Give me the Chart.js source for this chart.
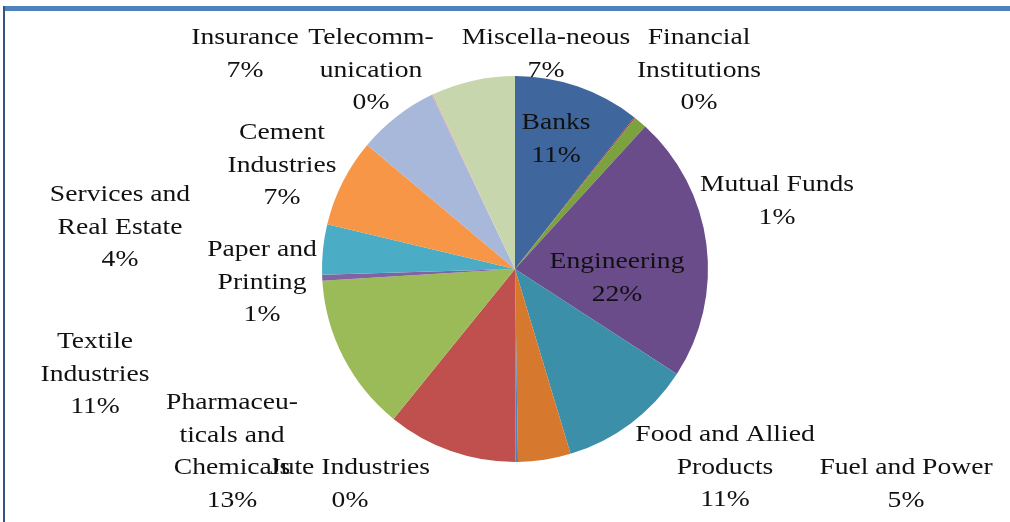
<!DOCTYPE html>
<html>
<head>
<meta charset="utf-8">
<script src="https://cdn.jsdelivr.net/npm/chart.js@4/dist/chart.umd.min.js"></script>
<style>
    html, body { margin: 0; padding: 0; background: #fff; }
    #wrap { position: relative; width: 1010px; height: 522px; overflow: hidden; }
    #topbar { position: absolute; left: 4px; top: 6px; width: 1006px; height: 5px; background: #4F81BD; }
    #leftbar { position: absolute; left: 3px; top: 6px; width: 2px; height: 516px; background: #35557f; }
    canvas { position: absolute; left: 0; top: 0; }
</style>
</head>
<body>
<div id="wrap">
    <canvas id="pieChart" width="1010" height="522"></canvas>
    <div id="topbar"></div>
    <div id="leftbar"></div>
</div>
<script>
// sectors, clockwise from 12 o'clock
const sectors = ['Banks', 'Financial Institutions', 'Mutual Funds', 'Engineering', 'Food and Allied Products',
    'Fuel and Power', 'Jute Industries', 'Pharmaceuticals and Chemicals', 'Textile Industries',
    'Paper and Printing', 'Services and Real Estate', 'Cement Industries', 'Insurance',
    'Telecommunication', 'Miscellaneous'];
// slice sizes (share of total)
const shares = [10.6, 0.1, 1.1, 22.4, 11.2, 4.4, 0.2, 10.9, 13.2, 0.5, 4.2, 7.4, 6.8, 0.1, 7.0];
// percentages printed on the labels
const shownPct = ['11%', '0%', '1%', '22%', '11%', '5%', '0%', '13%', '11%', '1%', '4%', '7%', '7%', '0%', '7%'];
// label text as it is wrapped in the picture
const labelLines = [
    ['Banks'], ['Financial', 'Institutions'], ['Mutual Funds'], ['Engineering'], ['Food and Allied', 'Products'],
    ['Fuel and Power'], ['Jute Industries'], ['Pharmaceu-', 'ticals and', 'Chemicals'], ['Textile', 'Industries'],
    ['Paper and', 'Printing'], ['Services and', 'Real Estate'], ['Cement', 'Industries'], ['Insurance'],
    ['Telecomm-', 'unication'], ['Miscella-neous']
];
const sliceColors = ['#3F679D', '#9B3D3A', '#7BA23F', '#6A4C8B', '#3B8FA8', '#D6792F', '#4F81BD', '#C0504D',
    '#9BBB59', '#8064A2', '#4BACC6', '#F79646', '#A7B8DA', '#DBA9A8', '#C7D6AD'];

// label placement, offset of first line centre from the pie centre
const labelOffsets = [
    [41, -146], [184, -231], [262, -84], [102, -7], [210, 166],
    [391, 199], [-165, 199], [-283, 134], [-420, 73],
    [-253, -19], [-395, -74], [-233, -136], [-270, -231],
    [-144, -231], [31, -231]
];

document.addEventListener('DOMContentLoaded', function() {
    const labelPlugin = {
        id: 'sliceLabels',
        afterDatasetsDraw(chart) {
            const arc = chart.getDatasetMeta(0).data[0];
            const cx = arc.x, cy = arc.y;
            const ctx = chart.ctx;
            ctx.save();
            ctx.font = '23px "Liberation Serif", "Times New Roman", serif';
            ctx.fillStyle = '#111';
            ctx.textAlign = 'center';
            ctx.textBaseline = 'middle';
            labelOffsets.forEach(function(off, i) {
                const lines = labelLines[i].concat([shownPct[i]]);
                lines.forEach(function(line, j) {
                    ctx.save();
                    ctx.translate(cx + off[0], cy + off[1] + j * 32.5);
                    ctx.scale(1.2, 1);
                    ctx.fillText(line, 0, 0);
                    ctx.restore();
                });
            });
            ctx.restore();
        }
    };

    const ctx = document.getElementById('pieChart').getContext('2d');
    const pieChart = new Chart(ctx, {
        type: 'pie',
        data: {
            labels: sectors,
            datasets: [
                {
                    data: shares,
                    backgroundColor: sliceColors,
                    borderWidth: 0
                }
            ]
        },
        options: {
            responsive: false,
            animation: false,
            layout: {
                padding: { left: 322, right: 302, top: 76, bottom: 60 }
            },
            plugins: {
                legend: { display: false },
                tooltip: { enabled: false }
            }
        },
        plugins: [labelPlugin]
    });
});
</script>
</body>
</html>
